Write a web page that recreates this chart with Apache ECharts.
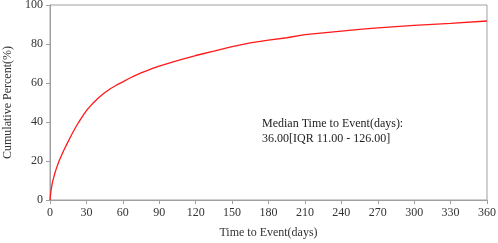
<!DOCTYPE html>
<html><head><meta charset="utf-8">
<script src="https://cdn.jsdelivr.net/npm/echarts@6/dist/echarts.min.js"></script>
<style>html,body{margin:0;padding:0;background:#fff}#c{width:498px;height:243px}</style>
</head><body><div id="c"></div>
<script>
const days = [0,0.3,1,2,3,4,5,6,7,8,9,10,11,12,14,16,18,20,22,25,28,30,33,36,40,45,50,55,60,65,70,75,80,85,90,100,110,120,126,135,150,165,180,195,210,225,240,255,270,285,300,330,360];
const cumPct = [0,2,5.5,9,11.5,13.7,15.7,17.5,19.2,20.8,22.2,23.6,25,26.3,28.8,31.3,33.7,36,38.2,41.2,44,45.8,48,50,52.4,55,57.2,59,60.6,62.3,63.8,65.2,66.4,67.6,68.7,70.6,72.4,74.1,75,76.3,78.6,80.6,82,83.2,84.8,85.7,86.6,87.5,88.3,88.9,89.5,90.6,91.8];
const xTicks = [0,30,60,90,120,150,180,210,240,270,300,330,360];
const yTicks = [0,20,40,60,80,100];
const noteLines = ['Median Time to Event(days):','36.00[IQR 11.00 - 126.00]'];
const xTitle = 'Time to Event(days)';
const yTitle = 'Cumulative Percent(%)';

const font = 'Liberation Serif';
const chart = echarts.init(document.getElementById('c'));
const axisCommon = {
  axisLine:{show:true,lineStyle:{color:'#a0a0a0',width:1}},
  axisTick:{show:true,length:4,lineStyle:{color:'#a0a0a0'}},
  axisLabel:{color:'#333',fontFamily:font,fontSize:12},
  splitLine:{show:false},
  nameTextStyle:{color:'#333',fontFamily:font,fontSize:12}
};
chart.setOption({
  animation:false,
  grid:{left:50,right:11,top:5,bottom:43,show:true,borderColor:'#a0a0a0',borderWidth:1,containLabel:false,outerBoundsMode:'none'},
  xAxis:Object.assign({},axisCommon,{type:'value',min:xTicks[0],max:xTicks[xTicks.length-1],interval:30,
    name:xTitle,nameLocation:'middle',nameGap:27,
    axisLabel:Object.assign({},axisCommon.axisLabel,{margin:7})}),
  yAxis:Object.assign({},axisCommon,{type:'value',min:yTicks[0],max:yTicks[yTicks.length-1],interval:20,
    name:yTitle,nameLocation:'middle',nameGap:36,nameRotate:90,
    axisLabel:Object.assign({},axisCommon.axisLabel,{margin:7})}),
  graphic:[{type:'text',left:262,top:116,style:{text:noteLines.join('\n'),fill:'#222',font:'12px "Liberation Serif"',lineHeight:15}}],
  series:[{type:'line',data:days.map((d,i)=>[d,cumPct[i]]),showSymbol:false,smooth:false,
    lineStyle:{color:'#ff1a1a',width:1.3}}]
});
</script></body></html>
